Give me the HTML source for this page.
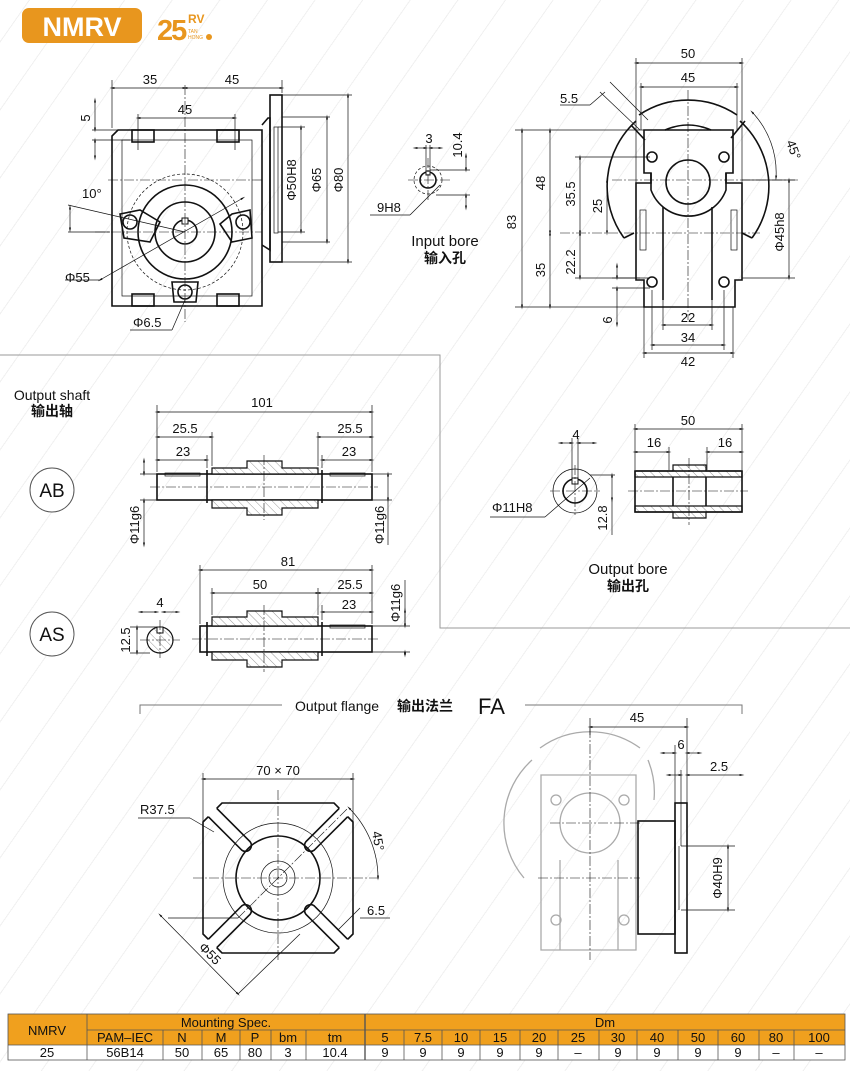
<!DOCTYPE html>
<html><head><meta charset="utf-8">
<style>
html,body{margin:0;padding:0;background:#fff;}
body{width:850px;height:1071px;overflow:hidden;position:relative;
background:repeating-linear-gradient(-55deg,#fff 0,#fff 38px,#f0f0f0 38px,#f0f0f0 39px);}
svg{position:absolute;left:0;top:0;}
text{font-family:"Liberation Sans","Noto Sans CJK SC",sans-serif;fill:#111;}
.o{fill:none;stroke:#111;stroke-width:1.6}
.t{fill:none;stroke:#111;stroke-width:0.7}
.c{fill:none;stroke:#111;stroke-width:0.6;stroke-dasharray:10 2 2 2}
.d{fill:none;stroke:#111;stroke-width:0.7;marker-start:url(#a);marker-end:url(#a)}
.g{fill:none;stroke:#aaa;stroke-width:1.3}
.h{fill:url(#hatch);stroke:#111;stroke-width:1.2}
.n{font-size:13px;}
</style></head><body>
<svg width="850" height="1071" viewBox="0 0 850 1071">
<defs>
<marker id="a" viewBox="0 0 10 10" refX="5" refY="5" markerWidth="7" markerHeight="7" orient="auto-start-reverse"><path d="M0,3 L10,5 L0,7 z" fill="#111"/></marker>
<pattern id="hatch" width="6" height="6" patternUnits="userSpaceOnUse" patternTransform="rotate(-45)"><rect width="6" height="6" fill="#fff"/><line x1="0" y1="0" x2="0" y2="6" stroke="#555" stroke-width="0.6"/></pattern>
</defs>

<!-- header -->
<rect x="22" y="8" width="120" height="35" rx="7" fill="#E8961E"/>
<text x="82" y="36" font-size="27" font-weight="bold" style="fill:#fff" text-anchor="middle">NMRV</text>
<text x="157" y="40" font-size="29" font-weight="bold" style="fill:#E8961E;letter-spacing:-2px">25</text>
<text x="188" y="23" font-size="12" font-weight="bold" style="fill:#E8961E">RV</text>
<text x="188" y="33" font-size="5" style="fill:#E8961E">TAN</text>
<text x="188" y="39" font-size="5" style="fill:#E8961E">HONG</text>
<circle cx="209" cy="37" r="3" fill="#E8961E"/>

<!-- dividers -->
<path d="M0,355 H440 V628 H850" fill="none" stroke="#999" stroke-width="1"/>

<!-- ===== top-left view ===== -->
<path class="o" d="M118,130 H262 V306 H112 V136 Z"/>
<rect class="t" x="122" y="140" width="130" height="156"/>
<rect class="o" x="132" y="130" width="22" height="12"/>
<rect class="o" x="217" y="130" width="22" height="12"/>
<rect class="o" x="132" y="294" width="22" height="12"/>
<rect class="o" x="217" y="294" width="22" height="12"/>
<path class="o" d="M262,125 L268,118 H270 V250 L262,245"/>
<rect class="o" x="270" y="95" width="12" height="167"/>
<rect class="t" x="274" y="127" width="4" height="106"/>
<circle cx="185" cy="232" r="58" class="t" stroke-dasharray="3 2"/>
<circle cx="185" cy="232" r="47" class="o"/>
<circle cx="185" cy="232" r="30" class="o"/>
<circle cx="185" cy="232" r="12" class="o"/>
<rect x="182" y="218" width="6" height="6" fill="#fff" stroke="#111" stroke-width="1"/>
<path class="o" d="M120,214 L140,210 L160,222 L150,242 L124,238 Z"/>
<circle cx="130" cy="222" r="7" class="o"/>
<path class="o" d="M250,210 L232,214 L220,224 L232,242 L252,238 Z"/>
<circle cx="243" cy="222" r="7" class="o"/>
<path class="o" d="M172,282 L198,282 L196,302 L174,302 Z"/>
<circle cx="185" cy="292" r="7" class="o"/>
<line class="c" x1="95" y1="232" x2="262" y2="232"/>
<line class="c" x1="108" y1="180" x2="262" y2="180"/>
<line class="c" x1="185" y1="85" x2="185" y2="322"/>
<line class="t" x1="112" y1="80" x2="112" y2="128"/>
<line class="t" x1="282" y1="80" x2="282" y2="93"/>
<line class="d" x1="112" y1="88" x2="185" y2="88"/><line class="d" x1="185" y1="88" x2="282" y2="88"/>
<text class="n" x="150" y="84" text-anchor="middle">35</text>
<text class="n" x="232" y="84" text-anchor="middle">45</text>
<line class="d" x1="138" y1="118" x2="235" y2="118"/>
<line class="t" x1="138" y1="114" x2="138" y2="150"/><line class="t" x1="235" y1="114" x2="235" y2="150"/>
<text class="n" x="185" y="114" text-anchor="middle">45</text>
<line class="t" x1="92" y1="130" x2="130" y2="130"/><line class="t" x1="92" y1="140" x2="130" y2="140"/>
<line class="d" x1="95" y1="100" x2="95" y2="130"/><line class="d" x1="95" y1="140" x2="95" y2="158"/>
<text class="n" transform="translate(90,118) rotate(-90)" text-anchor="middle">5</text>
<line class="t" x1="282" y1="95" x2="352" y2="95"/><line class="t" x1="282" y1="262" x2="352" y2="262"/>
<line class="t" x1="282" y1="117" x2="330" y2="117"/><line class="t" x1="282" y1="242" x2="330" y2="242"/>
<line class="t" x1="278" y1="127" x2="305" y2="127"/><line class="t" x1="278" y1="232" x2="305" y2="232"/>
<line class="d" x1="301" y1="127" x2="301" y2="232"/>
<line class="d" x1="327" y1="117" x2="327" y2="242"/>
<line class="d" x1="348" y1="95" x2="348" y2="262"/>
<text class="n" transform="translate(296,180) rotate(-90)" text-anchor="middle">Φ50H8</text>
<text class="n" transform="translate(321,180) rotate(-90)" text-anchor="middle">Φ65</text>
<text class="n" transform="translate(343,180) rotate(-90)" text-anchor="middle">Φ80</text>
<text class="n" x="82" y="198">10°</text>
<line class="t" x1="68" y1="205" x2="185" y2="232"/>
<line class="t" x1="68" y1="232" x2="110" y2="232"/>
<line class="d" x1="70" y1="207" x2="70" y2="230"/>
<line class="t" x1="65" y1="280" x2="100" y2="280"/><line class="d" x1="100" y1="280" x2="243" y2="198"/>
<text class="n" x="65" y="282">Φ55</text>
<line class="t" x1="130" y1="330" x2="172" y2="330"/><line class="t" x1="172" y1="330" x2="185" y2="300"/>
<text class="n" x="133" y="327">Φ6.5</text>

<!-- input bore -->
<circle cx="428" cy="180" r="14" class="t" stroke-dasharray="3 2"/>
<circle cx="428" cy="180" r="8" class="o"/>
<rect x="426" y="171" width="4" height="4" fill="#fff" stroke="#111" stroke-width="1"/>
<line class="c" x1="408" y1="180" x2="450" y2="180"/><line class="c" x1="428" y1="158" x2="428" y2="200"/>
<line class="t" x1="426" y1="145" x2="426" y2="172"/><line class="t" x1="430" y1="145" x2="430" y2="172"/>
<line class="d" x1="415" y1="148" x2="426" y2="148"/><line class="d" x1="441" y1="148" x2="430" y2="148"/>
<text class="n" x="429" y="143" text-anchor="middle">3</text>
<line class="t" x1="430" y1="170" x2="470" y2="170"/><line class="t" x1="436" y1="195" x2="470" y2="195"/>
<line class="d" x1="466" y1="155" x2="466" y2="170"/><line class="d" x1="466" y1="195" x2="466" y2="208"/>
<text class="n" transform="translate(462,145) rotate(-90)" text-anchor="middle">10.4</text>
<line class="t" x1="370" y1="215" x2="410" y2="215"/><line class="t" x1="410" y1="215" x2="440" y2="185"/>
<text class="n" x="377" y="212">9H8</text>
<text x="445" y="246" font-size="15" text-anchor="middle">Input bore</text>
<text x="445" y="263" font-size="14" font-weight="bold" text-anchor="middle">输入孔</text>

<!-- ===== top-right view ===== -->
<path class="o" d="M624,238 A88,88 0 0 1 636,121"/>
<path class="o" d="M631,125 L645,140"/>
<path class="o" d="M639,115 A88,88 0 0 1 737,115"/>
<path class="o" d="M731,138 L745,121"/>
<path class="o" d="M740,121 A88,88 0 0 1 752,238"/>
<path class="o" d="M624,238 L634,233"/><path class="o" d="M752,238 L742,233"/>
<path class="o" d="M644,130 H733 V173 H726 V183 H742 V280 H735 V307 H644 V280 H636 V183 H651 V173 H644 Z"/>
<path class="o" d="M663,300 V207"/><path class="o" d="M712,300 V207"/>
<path class="o" d="M651,173 V190 A40,40 0 0 0 726,190 V173"/>
<circle cx="688" cy="182" r="22" class="o"/>
<path class="o" d="M665,130 Q688,120 711,130"/>
<circle cx="652" cy="157" r="5" class="o"/><circle cx="724" cy="157" r="5" class="o"/>
<circle cx="652" cy="282" r="5" class="o"/><circle cx="724" cy="282" r="5" class="o"/>
<rect class="t" x="640" y="210" width="6" height="40"/><rect class="t" x="731" y="210" width="6" height="40"/>
<line class="c" x1="688" y1="90" x2="688" y2="320"/>
<line class="c" x1="612" y1="180" x2="800" y2="180"/>
<line class="c" x1="560" y1="233" x2="760" y2="233"/>
<line class="t" x1="636" y1="58" x2="636" y2="183"/><line class="t" x1="742" y1="58" x2="742" y2="183"/>
<line class="d" x1="636" y1="63" x2="742" y2="63"/>
<text class="n" x="688" y="58" text-anchor="middle">50</text>
<line class="t" x1="641" y1="83" x2="641" y2="130"/><line class="t" x1="737" y1="83" x2="737" y2="130"/>
<line class="d" x1="641" y1="87" x2="737" y2="87"/>
<text class="n" x="688" y="82" text-anchor="middle">45</text>
<line class="t" x1="560" y1="105" x2="590" y2="105"/><line class="t" x1="590" y1="105" x2="605" y2="92"/>
<line class="t" x1="600" y1="92" x2="640" y2="130"/><line class="t" x1="610" y1="82" x2="648" y2="120"/>
<text class="n" x="560" y="103">5.5</text>
<path class="d" d="M752,112 A88,88 0 0 1 776,178"/>
<text class="n" transform="translate(786,142) rotate(70)">45°</text>
<line class="t" x1="515" y1="130" x2="644" y2="130"/><line class="t" x1="515" y1="307" x2="644" y2="307"/>
<line class="d" x1="522" y1="130" x2="522" y2="307"/>
<text class="n" transform="translate(516,222) rotate(-90)" text-anchor="middle">83</text>
<line class="d" x1="550" y1="130" x2="550" y2="233"/><line class="d" x1="550" y1="233" x2="550" y2="307"/>
<text class="n" transform="translate(545,183) rotate(-90)" text-anchor="middle">48</text>
<text class="n" transform="translate(545,270) rotate(-90)" text-anchor="middle">35</text>
<line class="t" x1="575" y1="157" x2="650" y2="157"/>
<line class="d" x1="580" y1="157" x2="580" y2="233"/>
<text class="n" transform="translate(575,194) rotate(-90)" text-anchor="middle">35.5</text>
<line class="d" x1="607" y1="180" x2="607" y2="233"/>
<text class="n" transform="translate(602,206) rotate(-90)" text-anchor="middle">25</text>
<line class="t" x1="575" y1="278" x2="640" y2="278"/>
<line class="d" x1="580" y1="233" x2="580" y2="278"/>
<text class="n" transform="translate(575,262) rotate(-90)" text-anchor="middle">22.2</text>
<line class="t" x1="612" y1="278" x2="650" y2="278"/><line class="t" x1="612" y1="288" x2="650" y2="288"/>
<line class="d" x1="617" y1="265" x2="617" y2="278"/><line class="d" x1="617" y1="288" x2="617" y2="325"/>
<text class="n" transform="translate(612,320) rotate(-90)" text-anchor="middle">6</text>
<line class="t" x1="663" y1="300" x2="663" y2="330"/><line class="t" x1="712" y1="300" x2="712" y2="330"/>
<line class="d" x1="663" y1="325" x2="712" y2="325"/>
<text class="n" x="688" y="322" text-anchor="middle">22</text>
<line class="t" x1="652" y1="290" x2="652" y2="350"/><line class="t" x1="724" y1="290" x2="724" y2="350"/>
<line class="d" x1="652" y1="345" x2="724" y2="345"/>
<text class="n" x="688" y="342" text-anchor="middle">34</text>
<line class="t" x1="644" y1="307" x2="644" y2="358"/><line class="t" x1="733" y1="307" x2="733" y2="358"/>
<line class="d" x1="644" y1="353" x2="733" y2="353"/>
<text class="n" x="688" y="366" text-anchor="middle">42</text>
<line class="t" x1="742" y1="180" x2="795" y2="180"/><line class="t" x1="742" y1="278" x2="795" y2="278"/>
<line class="d" x1="789" y1="180" x2="789" y2="278"/>
<text class="n" transform="translate(784,232) rotate(-90)" text-anchor="middle">Φ45h8</text>

<!-- ===== output shaft ===== -->
<text x="52" y="400" font-size="14" text-anchor="middle">Output shaft</text>
<text x="52" y="416" font-size="14" font-weight="bold" text-anchor="middle">输出轴</text>
<circle cx="52" cy="490" r="22" fill="#fff" stroke="#555" stroke-width="1"/>
<text x="52" y="497" font-size="19" text-anchor="middle">AB</text>
<circle cx="52" cy="634" r="22" fill="#fff" stroke="#555" stroke-width="1"/>
<text x="52" y="641" font-size="19" text-anchor="middle">AS</text>

<!-- AB -->
<rect class="o" x="157" y="474" width="215" height="26" fill="#fff"/>
<rect class="t" x="165" y="473" width="35" height="3"/><rect class="t" x="330" y="473" width="35" height="3"/>
<path class="h" d="M212,468 H247 V461 H282 V468 H318 V474 H212 Z"/>
<path class="h" d="M212,500 H318 V508 H282 V515 H247 V508 H212 Z"/>
<line class="o" x1="207" y1="470" x2="207" y2="503"/><line class="o" x1="322" y1="470" x2="322" y2="503"/>
<line class="c" x1="150" y1="487" x2="378" y2="487"/>
<line class="c" x1="264" y1="455" x2="264" y2="520"/>
<line class="t" x1="157" y1="405" x2="157" y2="472"/><line class="t" x1="372" y1="405" x2="372" y2="472"/>
<line class="t" x1="212" y1="432" x2="212" y2="466"/><line class="t" x1="318" y1="432" x2="318" y2="466"/>
<line class="t" x1="207" y1="455" x2="207" y2="468"/><line class="t" x1="322" y1="455" x2="322" y2="468"/>
<line class="d" x1="157" y1="412" x2="372" y2="412"/><text class="n" x="262" y="407" text-anchor="middle">101</text>
<line class="d" x1="157" y1="437" x2="212" y2="437"/><text class="n" x="185" y="433" text-anchor="middle">25.5</text>
<line class="d" x1="157" y1="460" x2="207" y2="460"/><text class="n" x="183" y="456" text-anchor="middle">23</text>
<line class="d" x1="318" y1="437" x2="372" y2="437"/><text class="n" x="350" y="433" text-anchor="middle">25.5</text>
<line class="d" x1="322" y1="460" x2="372" y2="460"/><text class="n" x="349" y="456" text-anchor="middle">23</text>
<line class="t" x1="140" y1="474" x2="157" y2="474"/><line class="t" x1="140" y1="500" x2="157" y2="500"/>
<line class="d" x1="144" y1="460" x2="144" y2="474"/><line class="d" x1="144" y1="500" x2="144" y2="545"/>
<text class="n" transform="translate(139,525) rotate(-90)" text-anchor="middle">Φ11g6</text>
<line class="t" x1="372" y1="474" x2="392" y2="474"/><line class="t" x1="372" y1="500" x2="392" y2="500"/>
<line class="d" x1="388" y1="474" x2="388" y2="500"/><line class="t" x1="388" y1="500" x2="388" y2="545"/>
<text class="n" transform="translate(384,525) rotate(-90)" text-anchor="middle">Φ11g6</text>

<!-- AS -->
<rect class="o" x="200" y="626" width="172" height="26" fill="#fff"/>
<rect class="t" x="330" y="625" width="35" height="3"/>
<path class="h" d="M212,617 H247 V611 H282 V617 H318 V626 H212 Z"/>
<path class="h" d="M212,652 H318 V660 H282 V667 H247 V660 H212 Z"/>
<line class="o" x1="207" y1="622" x2="207" y2="656"/><line class="o" x1="322" y1="622" x2="322" y2="656"/>
<line class="c" x1="192" y1="639" x2="378" y2="639"/>
<line class="c" x1="264" y1="605" x2="264" y2="672"/>
<line class="t" x1="200" y1="565" x2="200" y2="624"/><line class="t" x1="372" y1="565" x2="372" y2="624"/>
<line class="t" x1="212" y1="588" x2="212" y2="615"/><line class="t" x1="318" y1="588" x2="318" y2="615"/>
<line class="t" x1="322" y1="605" x2="322" y2="620"/>
<line class="d" x1="200" y1="570" x2="372" y2="570"/><text class="n" x="288" y="566" text-anchor="middle">81</text>
<line class="d" x1="212" y1="593" x2="318" y2="593"/><text class="n" x="260" y="589" text-anchor="middle">50</text>
<line class="d" x1="318" y1="593" x2="372" y2="593"/><text class="n" x="350" y="589" text-anchor="middle">25.5</text>
<line class="d" x1="322" y1="612" x2="372" y2="612"/><text class="n" x="349" y="609" text-anchor="middle">23</text>
<line class="t" x1="372" y1="626" x2="410" y2="626"/><line class="t" x1="372" y1="652" x2="410" y2="652"/>
<line class="d" x1="405" y1="610" x2="405" y2="626"/><line class="d" x1="405" y1="652" x2="405" y2="655"/>
<line class="t" x1="405" y1="580" x2="405" y2="626"/>
<text class="n" transform="translate(400,603) rotate(-90)" text-anchor="middle">Φ11g6</text>
<circle cx="160" cy="640" r="13" class="h"/>
<rect x="157" y="627" width="6" height="6" fill="#fff" stroke="#111" stroke-width="1"/>
<line class="c" x1="140" y1="640" x2="180" y2="640"/><line class="c" x1="160" y1="620" x2="160" y2="658"/>
<line class="d" x1="140" y1="612" x2="157" y2="612"/><line class="d" x1="178" y1="612" x2="163" y2="612"/>
<text class="n" x="160" y="607" text-anchor="middle">4</text>
<line class="t" x1="130" y1="627" x2="157" y2="627"/><line class="t" x1="130" y1="653" x2="150" y2="653"/>
<line class="d" x1="137" y1="627" x2="137" y2="653"/>
<text class="n" transform="translate(130,640) rotate(-90)" text-anchor="middle">12.5</text>

<!-- output bore -->
<circle cx="575" cy="491" r="22" class="t"/>
<circle cx="575" cy="491" r="12" class="o"/>
<rect x="572" y="478" width="6" height="6" fill="#fff" stroke="#111" stroke-width="1"/>
<line class="c" x1="550" y1="491" x2="600" y2="491"/><line class="c" x1="575" y1="465" x2="575" y2="515"/>
<line class="t" x1="572" y1="438" x2="572" y2="480"/><line class="t" x1="578" y1="438" x2="578" y2="480"/>
<line class="d" x1="560" y1="443" x2="572" y2="443"/><line class="d" x1="595" y1="443" x2="578" y2="443"/>
<text class="n" x="576" y="439" text-anchor="middle">4</text>
<line class="t" x1="590" y1="475" x2="615" y2="475"/>
<line class="d" x1="612" y1="475" x2="612" y2="500"/><line class="t" x1="612" y1="500" x2="612" y2="535"/>
<text class="n" transform="translate(607,518) rotate(-90)" text-anchor="middle">12.8</text>
<line class="t" x1="490" y1="517" x2="545" y2="517"/><line class="t" x1="545" y1="517" x2="590" y2="478"/>
<text class="n" x="492" y="512">Φ11H8</text>
<path class="h" d="M635,471 H673 V465 H706 V471 H742 V477 H635 Z"/>
<path class="h" d="M635,506 H742 V512 H706 V518 H673 V512 H635 Z"/>
<rect class="o" x="635" y="471" width="107" height="41"/>
<line class="o" x1="673" y1="477" x2="673" y2="506"/><line class="o" x1="706" y1="477" x2="706" y2="506"/>
<line class="c" x1="628" y1="491" x2="748" y2="491"/><line class="c" x1="689" y1="458" x2="689" y2="525"/>
<line class="t" x1="635" y1="424" x2="635" y2="470"/><line class="t" x1="742" y1="424" x2="742" y2="470"/>
<line class="t" x1="669" y1="447" x2="669" y2="470"/><line class="t" x1="707" y1="447" x2="707" y2="470"/>
<line class="d" x1="635" y1="429" x2="742" y2="429"/><text class="n" x="688" y="425" text-anchor="middle">50</text>
<line class="d" x1="635" y1="452" x2="669" y2="452"/><text class="n" x="654" y="447" text-anchor="middle">16</text>
<line class="d" x1="707" y1="452" x2="742" y2="452"/><text class="n" x="725" y="447" text-anchor="middle">16</text>
<text x="628" y="574" font-size="15" text-anchor="middle">Output bore</text>
<text x="628" y="591" font-size="14" font-weight="bold" text-anchor="middle">输出孔</text>

<!-- ===== output flange ===== -->
<path d="M140,714 V705 H282 M525,705 H742 V714" fill="none" stroke="#777" stroke-width="1"/>
<text x="295" y="711" font-size="14">Output flange</text>
<text x="397" y="711" font-size="14" font-weight="bold">输出法兰</text>
<text x="478" y="714" font-size="22">FA</text>

<path class="o" d="M222,803 H334 L353,822 V934 L334,953 H222 L203,934 V822 Z"/>
<g id="slot">
<path d="M213,805 L216.7,808.3 L250.2,841.8 A6,6 0 0 1 241.8,850.2 L208.3,816.7 L205,813 Z" fill="#fff" stroke="none"/>
<path d="M216.7,808.3 L250.2,841.8 A6,6 0 0 1 241.8,850.2 L208.3,816.7" fill="none" stroke="#111" stroke-width="1.6"/>
</g>
<use href="#slot" transform="rotate(90 278 878)"/>
<use href="#slot" transform="rotate(180 278 878)"/>
<use href="#slot" transform="rotate(270 278 878)"/>
<circle cx="278" cy="878" r="55" class="t"/>
<circle cx="278" cy="878" r="42" class="o"/>
<circle cx="278" cy="878" r="17" class="t"/>
<circle cx="278" cy="878" r="9" class="t"/>
<line class="c" x1="193" y1="878" x2="380" y2="878"/><line class="c" x1="278" y1="790" x2="278" y2="962"/>
<line class="c" x1="238" y1="918" x2="348" y2="808"/>
<line class="t" x1="203" y1="773" x2="203" y2="822"/><line class="t" x1="353" y1="773" x2="353" y2="822"/>
<line class="d" x1="203" y1="779" x2="353" y2="779"/>
<text class="n" x="278" y="775" text-anchor="middle">70 × 70</text>
<line class="t" x1="138" y1="818" x2="190" y2="818"/><line class="t" x1="190" y1="818" x2="214" y2="832"/>
<text class="n" x="140" y="814">R37.5</text>
<path class="d" d="M349,808 A99,99 0 0 1 378,878"/>
<text class="n" transform="translate(372,832) rotate(80)">45°</text>
<line class="t" x1="168" y1="918" x2="238" y2="918"/>
<line class="d" x1="160" y1="915" x2="238" y2="994"/>
<line class="t" x1="238" y1="994" x2="300" y2="934"/>
<text class="n" transform="translate(198,948) rotate(45)">Φ55</text>
<line class="t" x1="338" y1="930" x2="360" y2="908"/><line class="t" x1="360" y1="918" x2="390" y2="918"/>
<text class="n" x="367" y="915">6.5</text>

<!-- FA side view -->
<path class="g" d="M524,878 A85,85 0 0 1 532,760"/>
<path class="g" d="M540,748 A85,85 0 0 1 640,748"/>
<path class="g" d="M648,760 A85,85 0 0 1 654,800"/>
<path class="g" d="M541,775 H636 V950 H541 Z"/>
<path class="g" d="M560,950 V860 M618,950 V860"/>
<circle cx="590" cy="823" r="30" class="g"/>
<circle cx="556" cy="800" r="5" class="g"/><circle cx="624" cy="800" r="5" class="g"/>
<circle cx="556" cy="920" r="5" class="g"/><circle cx="624" cy="920" r="5" class="g"/>
<rect class="o" x="638" y="821" width="37" height="113" fill="#fff"/>
<rect class="o" x="675" y="803" width="12" height="150" fill="#fff"/>
<line class="t" x1="679" y1="846" x2="679" y2="910"/>
<line class="c" x1="590" y1="728" x2="590" y2="960"/>
<line class="c" x1="550" y1="823" x2="640" y2="823"/>
<line class="c" x1="538" y1="878" x2="640" y2="878"/>
<line class="t" x1="590" y1="718" x2="590" y2="735"/><line class="t" x1="687" y1="718" x2="687" y2="803"/>
<line class="d" x1="590" y1="727" x2="687" y2="727"/><text class="n" x="637" y="722" text-anchor="middle">45</text>
<line class="t" x1="675" y1="745" x2="675" y2="803"/>
<line class="d" x1="662" y1="753" x2="675" y2="753"/><line class="d" x1="700" y1="753" x2="687" y2="753"/>
<text class="n" x="681" y="749" text-anchor="middle">6</text>
<line class="t" x1="681" y1="770" x2="681" y2="846"/>
<line class="d" x1="668" y1="775" x2="681" y2="775"/><line class="d" x1="742" y1="775" x2="687" y2="775"/>
<text class="n" x="710" y="771">2.5</text>
<line class="t" x1="681" y1="846" x2="735" y2="846"/><line class="t" x1="681" y1="910" x2="735" y2="910"/>
<line class="d" x1="728" y1="846" x2="728" y2="910"/>
<text class="n" transform="translate(722,878) rotate(-90)" text-anchor="middle">Φ40H9</text>

<!-- ===== table ===== -->
<g font-size="13">
<rect x="8" y="1014" width="837" height="31" fill="#F0A01E"/>
<rect x="8" y="1045" width="837" height="15" fill="#fff"/>
<g stroke="#555" stroke-width="0.8" fill="none">
<rect x="8" y="1014" width="837" height="46"/>
<line x1="87" y1="1030" x2="845" y2="1030"/>
<line x1="8" y1="1045" x2="845" y2="1045"/>
<line x1="87" y1="1014" x2="87" y2="1060"/>
<line x1="163" y1="1030" x2="163" y2="1060"/>
<line x1="202" y1="1030" x2="202" y2="1060"/>
<line x1="240" y1="1030" x2="240" y2="1060"/>
<line x1="271" y1="1030" x2="271" y2="1060"/>
<line x1="306" y1="1030" x2="306" y2="1060"/>
<line x1="365" y1="1014" x2="365" y2="1060" stroke-width="1.4"/>
<line x1="404" y1="1030" x2="404" y2="1060"/><line x1="442" y1="1030" x2="442" y2="1060"/>
<line x1="480" y1="1030" x2="480" y2="1060"/><line x1="520" y1="1030" x2="520" y2="1060"/>
<line x1="558" y1="1030" x2="558" y2="1060"/><line x1="599" y1="1030" x2="599" y2="1060"/>
<line x1="637" y1="1030" x2="637" y2="1060"/><line x1="678" y1="1030" x2="678" y2="1060"/>
<line x1="718" y1="1030" x2="718" y2="1060"/><line x1="759" y1="1030" x2="759" y2="1060"/>
<line x1="794" y1="1030" x2="794" y2="1060"/>
</g>
<g text-anchor="middle">
<text x="47" y="1035">NMRV</text>
<text x="226" y="1027">Mounting Spec.</text>
<text x="605" y="1027">Dm</text>
<text x="125" y="1042">PAM–IEC</text><text x="182" y="1042">N</text><text x="221" y="1042">M</text>
<text x="255" y="1042">P</text><text x="288" y="1042">bm</text><text x="335" y="1042">tm</text>
<text x="385" y="1042">5</text><text x="423" y="1042">7.5</text><text x="461" y="1042">10</text>
<text x="500" y="1042">15</text><text x="539" y="1042">20</text><text x="578" y="1042">25</text>
<text x="618" y="1042">30</text><text x="657" y="1042">40</text><text x="698" y="1042">50</text>
<text x="738" y="1042">60</text><text x="776" y="1042">80</text><text x="819" y="1042">100</text>
<text x="47" y="1057">25</text><text x="125" y="1057">56B14</text><text x="182" y="1057">50</text>
<text x="221" y="1057">65</text><text x="255" y="1057">80</text><text x="288" y="1057">3</text>
<text x="335" y="1057">10.4</text>
<text x="385" y="1057">9</text><text x="423" y="1057">9</text><text x="461" y="1057">9</text>
<text x="500" y="1057">9</text><text x="539" y="1057">9</text><text x="578" y="1057">–</text>
<text x="618" y="1057">9</text><text x="657" y="1057">9</text><text x="698" y="1057">9</text>
<text x="738" y="1057">9</text><text x="776" y="1057">–</text><text x="819" y="1057">–</text>
</g>
</g>
</svg>
</body></html>
